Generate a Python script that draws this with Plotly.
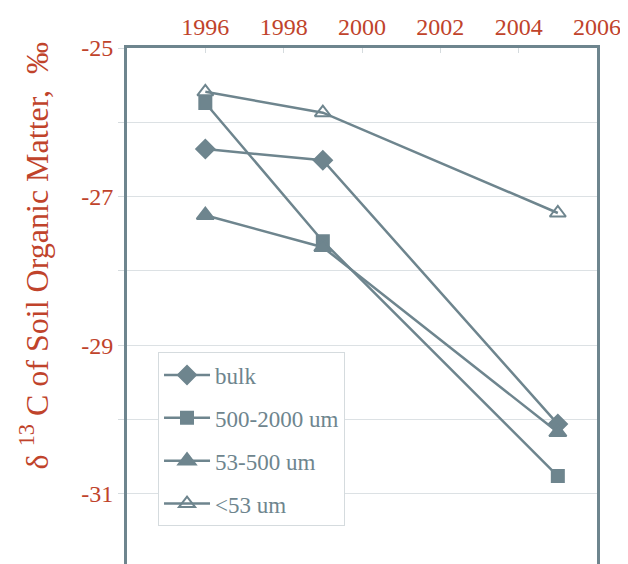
import plotly.graph_objects as go

years = [1996, 1999, 2005]
bulk = [-26.36, -26.51, -30.06]
coarse = [-25.74, -27.60, -30.76]
medium = [-27.25, -27.68, -30.17]
fine = [-25.59, -25.87, -27.22]

series_names = ["bulk", "500-2000 um", "53-500 um", "<53 um"]
x_ticks = [1996, 1998, 2000, 2002, 2004, 2006]
y_ticks = [-25, -27, -29, -31]
y_title = "δ <sup>13</sup> C of Soil Organic Matter,  ‰"

LINE = "#6E858E"
TXT = "#C0432B"
FONT = "Liberation Serif"

fig = go.Figure()
specs = [
    (bulk, "diamond", 14),
    (coarse, "square", 12),
    (medium, "triangle-up", 15),
    (fine, "triangle-up-open", 14),
]
for i, (name, (vals, sym, sz)) in enumerate(zip(series_names, specs)):
    fig.add_trace(go.Scatter(
        x=years, y=vals, name=name, mode="lines+markers",
        legendgroup=f"g{i}",
        line=dict(color=LINE, width=2.5),
        marker=dict(symbol=sym, size=sz, color=LINE,
                    line=dict(color=LINE, width=2)),
    ))

fig.update_layout(
    width=628, height=564,
    margin=dict(l=119, r=39, t=40, b=0),
    paper_bgcolor="white", plot_bgcolor="white",
    font=dict(family=FONT, color=TXT, size=24),
    showlegend=True,
    legend=dict(
        x=0.066, y=0.419, xanchor="left", yanchor="top",
        bgcolor="white", bordercolor="#D5DBDE", borderwidth=1,
        font=dict(family=FONT, size=23, color=LINE),
        tracegroupgap=10, itemwidth=46,
    ),
    annotations=[dict(
        text=y_title, xref="paper", yref="paper",
        x=-0.198, y=0.604, xanchor="center", yanchor="middle",
        textangle=-90, showarrow=False,
        font=dict(family=FONT, size=32, color=TXT),
    )],
)
fig.update_xaxes(
    side="top", range=[1994, 2006], tickvals=x_ticks,
    ticktext=[str(v) for v in x_ticks], automargin=False,
    showgrid=False, showline=True, linecolor=LINE, linewidth=3,
    mirror=False, ticks="inside", ticklen=5, tickcolor="#D5DBDE",
    tickfont=dict(family=FONT, size=24, color=TXT), zeroline=False,
)
fig.update_yaxes(
    range=[-32.05, -25], tickvals=y_ticks, automargin=False,
    ticktext=[str(v) for v in y_ticks],
    showgrid=True, gridcolor="#DCE1E4", gridwidth=1,
    showline=True, linecolor=LINE, linewidth=3, mirror=True,
    ticks="outside", ticklen=6, tickcolor="#D5DBDE",
    minor=dict(dtick=1, tick0=-25, showgrid=True, gridcolor="#DCE1E4",
               ticks="outside", ticklen=6, tickcolor="#D5DBDE"),
    tickfont=dict(family=FONT, size=24, color=TXT), zeroline=False,
)

fig.write_html("out.html")
